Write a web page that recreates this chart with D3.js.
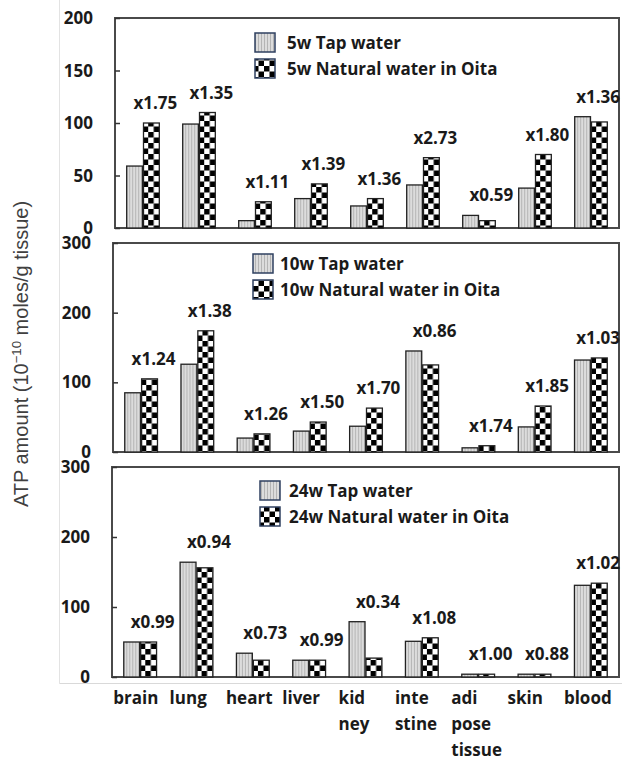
<!DOCTYPE html>
<html><head><meta charset="utf-8">
<script src="https://cdn.jsdelivr.net/npm/d3@7"></script>
<style>
html,body{margin:0;padding:0;background:#fff;}
svg{display:block;}
</style></head>
<body>
<svg id="chart" width="622" height="763"></svg>
<script>
// ---------- data ----------
const organs = ["brain","lung","heart","liver","kidney","intestine","adipose tissue","skin","blood"];
const organLabels = [["brain"],["lung"],["heart"],["liver"],["kid","ney"],["inte","stine"],["adi","pose","tissue"],["skin"],["blood"]];
const seriesKeys = ["tap","nat"];

const tap5  = [59, 99, 7, 28, 21, 41, 12, 38, 106];
const nat5  = [100, 110, 25, 42, 28, 67, 7, 70, 101];
const ratio5 = ["x1.75","x1.35","x1.11","x1.39","x1.36","x2.73","x0.59","x1.80","x1.36"];

const tap10 = [85, 126, 20, 30, 37, 145, 6, 36, 132];
const nat10 = [105, 174, 26, 43, 63, 125, 9, 66, 135];
const ratio10 = ["x1.24","x1.38","x1.26","x1.50","x1.70","x0.86","x1.74","x1.85","x1.03"];

const tap24 = [50, 164, 34, 24, 79, 51, 4, 4, 131];
const nat24 = [50, 156, 24, 24, 27, 56, 4, 4, 134];
const ratio24 = ["x0.99","x0.94","x0.73","x0.99","x0.34","x1.08","x1.00","x0.88","x1.02"];

const legend5  = ["5w Tap water","5w Natural water in Oita"];
const legend10 = ["10w Tap water","10w Natural water in Oita"];
const legend24 = ["24w Tap water","24w Natural water in Oita"];

const ticks5 = [0,50,100,150,200];
const ticks10 = [0,100,200,300];
const ticks24 = [0,100,200,300];
const yMax = [200,300,300];

const yTitle = "ATP amount (10";
const yTitleSup = "−10";
const yTitleEnd = " moles/g tissue)";

// ---------- layout ----------
const panels = [
  {tap:tap5, nat:nat5, ratio:ratio5, legend:legend5, ticks:ticks5, max:yMax[0], top:18, bottom:228, left:115, lx:255, ly:33, ltx:287},
  {tap:tap10, nat:nat10, ratio:ratio10, legend:legend10, ticks:ticks10, max:yMax[1], top:243, bottom:452, left:113, lx:253, ly:254, ltx:280},
  {tap:tap24, nat:nat24, ratio:ratio24, legend:legend24, ticks:ticks24, max:yMax[2], top:467, bottom:677, left:112, lx:260, ly:481, ltx:289}
];
const right = 619;
const FONT = "'Open Sans', 'DejaVu Sans', sans-serif";

const svg = d3.select("#chart");
const defs = svg.append("defs");

const pTap = defs.append("pattern").attr("id","pTap").attr("patternUnits","userSpaceOnUse")
  .attr("width",3).attr("height",3);
pTap.append("rect").attr("width",3).attr("height",3).attr("fill","#dcdcdc");
pTap.append("rect").attr("width",1).attr("height",3).attr("fill","#b4b4b4");
const pNat = defs.append("pattern").attr("id","pNat").attr("patternUnits","userSpaceOnUse")
  .attr("width",11).attr("height",11);
pNat.append("rect").attr("width",11).attr("height",11).attr("fill","#fff");
pNat.append("rect").attr("width",5.5).attr("height",5.5).attr("fill","#000");
pNat.append("rect").attr("x",5.5).attr("y",5.5).attr("width",5.5).attr("height",5.5).attr("fill","#000");

svg.append("line").attr("x1",59.5).attr("x2",59.5).attr("y1",0).attr("y2",683.5)
  .attr("stroke","#e3e3e3").attr("stroke-width",1);
svg.append("line").attr("x1",59.5).attr("x2",622).attr("y1",683.5).attr("y2",683.5)
  .attr("stroke","#d9d9d9").attr("stroke-width",1);

panels.forEach((p, pi) => {
  const g = svg.append("g");
  const x = d3.scaleBand().domain(organs).range([p.left, right]).paddingInner(0.4).paddingOuter(0.2);
  const x1 = d3.scaleBand().domain(seriesKeys).range([0, x.bandwidth()]);
  const y = d3.scaleLinear().domain([0, p.max]).range([p.bottom, p.top]);

  g.append("rect").attr("x",p.left).attr("y",p.top).attr("width",right-p.left).attr("height",p.bottom-p.top)
    .attr("fill","none").attr("stroke","#4a4a4a").attr("stroke-width",2);

  const axis = d3.axisRight(y).tickValues(p.ticks).tickSize(5).tickFormat("");
  const ag = g.append("g").attr("transform",`translate(${p.left},0)`).call(axis);
  ag.select(".domain").remove();
  ag.selectAll(".tick line").attr("stroke","#333").attr("stroke-width",1.5);
  g.selectAll("text.ytick").data(p.ticks).join("text").attr("class","ytick")
    .attr("x", p.left - 22).attr("y", d => y(d)).attr("dy","0.36em")
    .attr("text-anchor","end").attr("font-family",FONT).attr("font-weight",700)
    .attr("font-size",17).attr("fill","#1a1a1a").text(d => d);

  const rows = organs.map((o,i) => ({organ:o, tap:p.tap[i], nat:p.nat[i], ratio:p.ratio[i]}));
  const grp = g.selectAll("g.grp").data(rows).join("g").attr("class","grp")
    .attr("transform", d => `translate(${x(d.organ)},0)`);
  grp.selectAll("rect").data(d => seriesKeys.map(k => ({k, v:d[k]}))).join("rect")
    .attr("x", d => x1(d.k) + 0.5).attr("width", x1.bandwidth() - 1)
    .attr("y", d => y(d.v)).attr("height", d => y(0) - y(d.v))
    .attr("fill", d => d.k === "tap" ? "url(#pTap)" : "url(#pNat)")
    .attr("stroke","#222").attr("stroke-width",1.3);

  g.selectAll("text.ratio").data(rows).join("text").attr("class","ratio")
    .attr("x", d => x(d.organ) + x1("nat") + x1.bandwidth()/2 + 4)
    .attr("y", d => y(Math.max(d.tap, d.nat)) - 14)
    .attr("text-anchor","middle").attr("font-family",FONT).attr("font-weight",700)
    .attr("font-size",17).attr("fill","#1a1a1a").text(d => d.ratio)
    .each(function() {
      const w = this.getComputedTextLength();
      const cx = +this.getAttribute("x");
      if (cx + w/2 > 620) this.setAttribute("x", 620 - w/2);
    });

  const lg = g.append("g");
  p.legend.forEach((t, i) => {
    lg.append("rect").attr("x",p.lx).attr("y",p.ly + i*26).attr("width",20).attr("height",19)
      .attr("fill", i === 0 ? "url(#pTap)" : "url(#pNat)")
      .attr("stroke","#2f4060").attr("stroke-width",1.5);
    lg.append("text").attr("x",p.ltx).attr("y",p.ly + i*26 + 9.5).attr("dy","0.36em")
      .attr("font-family",FONT).attr("font-weight",700).attr("font-size",17).attr("fill","#1a1a1a").text(t);
  });

  if (pi === panels.length - 1) {
    organs.forEach((o, i) => {
      const t = g.append("text").attr("font-family",FONT).attr("font-weight",700)
        .attr("font-size",17).attr("fill","#1a1a1a");
      organLabels[i].forEach((line, j) => {
        t.append("tspan").attr("x", x(o) - 10).attr("y", 704 + j*26).text(line);
      });
    });
  }
});

// y title, sized to span the reference length
const yt = svg.append("text").attr("transform","translate(28,354) rotate(-90)")
  .attr("text-anchor","middle").attr("font-family","'Liberation Sans', Arial, sans-serif")
  .attr("font-size",18).attr("fill","#404040");
yt.append("tspan").text(yTitle);
yt.append("tspan").attr("font-size",12).attr("dy",-7).text(yTitleSup);
yt.append("tspan").attr("dy",7).text(yTitleEnd);
const len = yt.node().getComputedTextLength();
const fs = Math.min(20, 18 * 316 / len);
yt.attr("font-size", fs);
yt.selectAll("tspan").filter((d,i) => i === 1).attr("font-size", fs * 0.66);
</script>
</body></html>
